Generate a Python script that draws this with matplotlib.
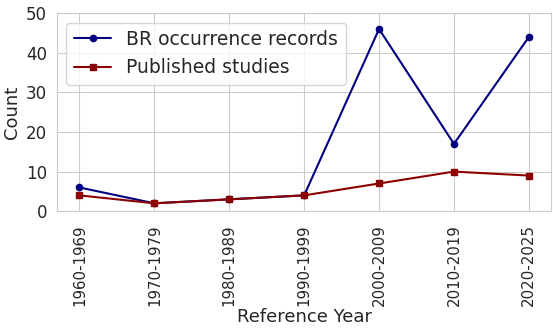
import matplotlib
matplotlib.use("Agg")
import matplotlib.pyplot as plt
import seaborn as sns

decades = ["1960-1969", "1970-1979", "1980-1989", "1990-1999",
           "2000-2009", "2010-2019", "2020-2025"]
occurrences = [6, 2, 3, 4, 46, 17, 44]
studies = [4, 2, 3, 4, 7, 10, 9]

sns.set_style("whitegrid")

fig, ax = plt.subplots(figsize=(5.53, 3.29), dpi=100)
x = list(range(len(decades)))
ax.plot(x, occurrences, color="navy", marker="o", markersize=4.5,
        linewidth=1.5, label="BR occurrence records")
ax.plot(x, studies, color="darkred", marker="s", markersize=4.5,
        linewidth=1.5, label="Published studies")

ax.set_xticks(x)
ax.set_xticklabels(decades, rotation=90, fontsize=10.8)
ax.set_xlim(-0.3, 6.3)
ax.set_ylim(0, 50)
ax.set_yticks(range(0, 51, 10))
ax.tick_params(axis="y", labelsize=12)
ax.tick_params(axis="x", pad=6)
ax.set_xlabel("Reference Year", fontsize=13, labelpad=1)
ax.set_ylabel("Count", fontsize=13)
ax.legend(loc="upper left", fontsize=13.5, frameon=True)

fig.subplots_adjust(left=0.103, right=0.997, top=0.96, bottom=0.358)
fig.savefig("out.png", dpi=100)
